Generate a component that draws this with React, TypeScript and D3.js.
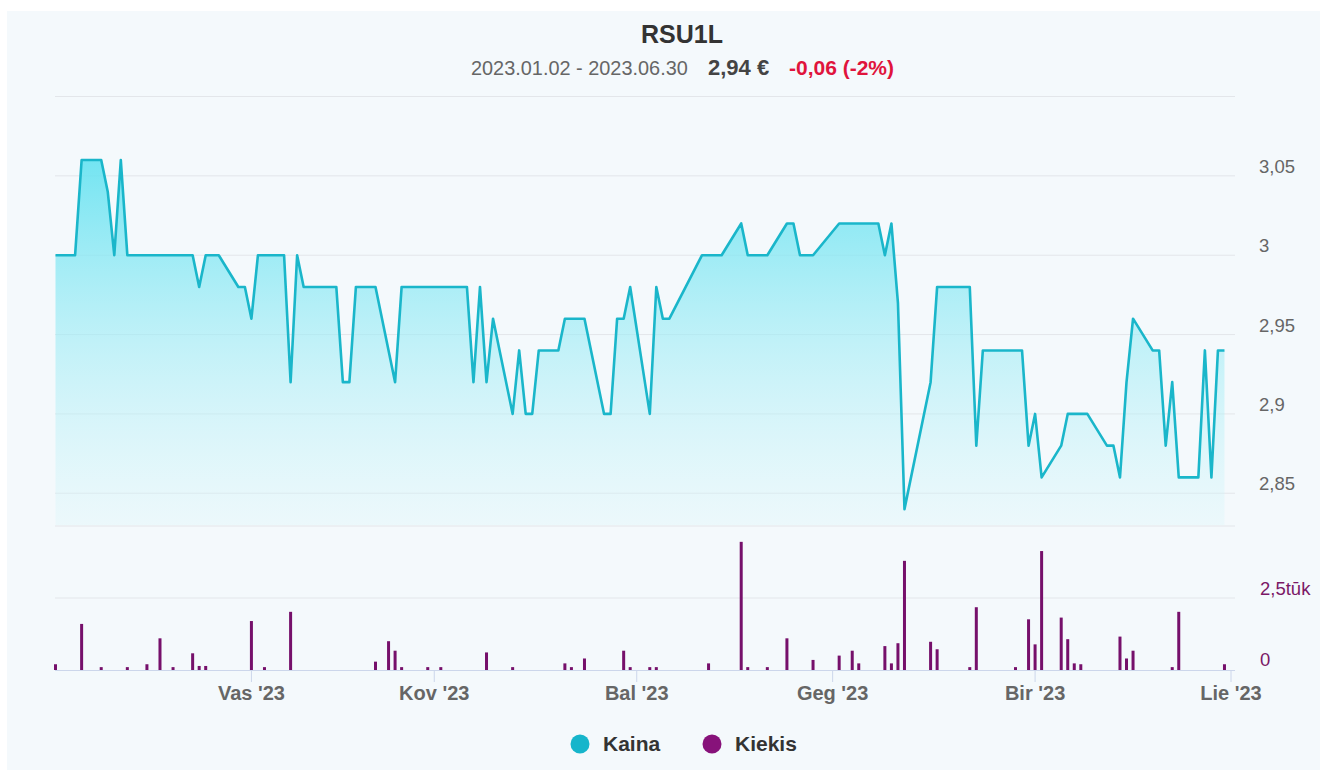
import React from 'react';
import * as d3 from 'd3';

const priceDates = [
  '2023-01-02','2023-01-05','2023-01-06','2023-01-09','2023-01-10','2023-01-11','2023-01-12','2023-01-13',
  '2023-01-23','2023-01-24','2023-01-25','2023-01-27','2023-01-30','2023-01-31','2023-02-01','2023-02-02',
  '2023-02-06','2023-02-07','2023-02-08','2023-02-09','2023-02-14','2023-02-15','2023-02-16','2023-02-17',
  '2023-02-20','2023-02-23','2023-02-24','2023-03-06','2023-03-07','2023-03-08','2023-03-09','2023-03-10',
  '2023-03-13','2023-03-14','2023-03-15','2023-03-16','2023-03-17','2023-03-20','2023-03-21','2023-03-24',
  '2023-03-27','2023-03-28','2023-03-29','2023-03-30','2023-03-31','2023-04-03','2023-04-04','2023-04-05',
  '2023-04-06','2023-04-11','2023-04-14','2023-04-17','2023-04-18','2023-04-21','2023-04-24','2023-04-25',
  '2023-04-26','2023-04-28','2023-05-02','2023-05-08','2023-05-09','2023-05-10','2023-05-11','2023-05-12',
  '2023-05-16','2023-05-17','2023-05-22','2023-05-23','2023-05-24','2023-05-30','2023-05-31','2023-06-01',
  '2023-06-02','2023-06-05','2023-06-06','2023-06-09','2023-06-12','2023-06-13','2023-06-14','2023-06-15',
  '2023-06-16','2023-06-19','2023-06-20','2023-06-21','2023-06-22','2023-06-23','2023-06-26','2023-06-27',
  '2023-06-28','2023-06-29','2023-06-30'
];
const priceValues = [
  3.00, 3.00, 3.06, 3.06, 3.04, 3.00, 3.06, 3.00,
  3.00, 2.98, 3.00, 3.00, 2.98, 2.98, 2.96, 3.00,
  3.00, 2.92, 3.00, 2.98, 2.98, 2.92, 2.92, 2.98,
  2.98, 2.92, 2.98, 2.98, 2.92, 2.98, 2.92, 2.96,
  2.90, 2.94, 2.90, 2.90, 2.94, 2.94, 2.96, 2.96,
  2.90, 2.90, 2.96, 2.96, 2.98, 2.90, 2.98, 2.96,
  2.96, 3.00, 3.00, 3.02, 3.00, 3.00, 3.02, 3.02,
  3.00, 3.00, 3.02, 3.02, 3.00, 3.02, 2.97, 2.84,
  2.92, 2.98, 2.98, 2.88, 2.94, 2.94, 2.88, 2.90,
  2.86, 2.88, 2.90, 2.90, 2.88, 2.88, 2.86, 2.92,
  2.96, 2.94, 2.94, 2.88, 2.92, 2.86, 2.86, 2.94,
  2.86, 2.94, 2.94
];

const volumeDates = [
  '2023-01-02','2023-01-06','2023-01-09','2023-01-13','2023-01-16','2023-01-18','2023-01-20','2023-01-23',
  '2023-01-24','2023-01-25','2023-02-01','2023-02-03','2023-02-07','2023-02-20','2023-02-22','2023-02-23',
  '2023-02-24','2023-02-28','2023-03-02','2023-03-09','2023-03-13','2023-03-21','2023-03-22','2023-03-24',
  '2023-03-30','2023-03-31','2023-04-03','2023-04-04','2023-04-12','2023-04-17','2023-04-18','2023-04-21',
  '2023-04-24','2023-04-28','2023-05-02','2023-05-04','2023-05-05','2023-05-09','2023-05-10','2023-05-11',
  '2023-05-12','2023-05-16','2023-05-17','2023-05-22','2023-05-23','2023-05-29','2023-05-31','2023-06-01',
  '2023-06-02','2023-06-05','2023-06-06','2023-06-07','2023-06-08','2023-06-14','2023-06-15','2023-06-16',
  '2023-06-22','2023-06-23','2023-06-30'
];
const volumeValues = [
  200, 1600, 100, 100, 200, 1100, 100, 580,
  140, 140, 1700, 100, 2020, 290, 1000, 670,
  100, 100, 100, 610, 100, 230, 100, 400,
  670, 100, 100, 100, 230, 4450, 100, 100,
  1100, 350, 500, 670, 230, 830, 230, 930,
  3790, 980, 720, 100, 2180, 100, 1760, 890,
  4130, 1820, 1070, 230, 200, 1160, 400, 670,
  100, 2020, 200
];

const priceTicks = [2.85, 2.9, 2.95, 3.0, 3.05, 3.1];
const priceTickLabels = ['2,85', '2,9', '2,95', '3', '3,05', ''];
const volumeTicks = [2500, 5000];
const volumeTickLabels = ['2,5tūk', ''];
const monthTicks = ['2023-02-01', '2023-03-01', '2023-04-01', '2023-05-01', '2023-06-01', '2023-07-01'];
const monthLabels = ["Vas '23", "Kov '23", "Bal '23", "Geg '23", "Bir '23", "Lie '23"];

const FONT = '"Liberation Sans", Arial, sans-serif';

export default function App() {
  const parse = d3.utcParse('%Y-%m-%d');
  const left = 55;
  const right = 1235;
  const x = d3.scaleUtc()
    .domain([parse('2023-01-02') as Date, parse('2023-07-01') as Date])
    .range([55.5, 1231]);
  const yP = d3.scaleLinear().domain([2.83, 3.10]).range([525, 96.5]);
  const yV = d3.scaleLinear().domain([0, 5000]).range([670, 526]);

  const price = priceDates.map((d, i) => ({ t: parse(d) as Date, v: priceValues[i] }));
  const vols = volumeDates.map((d, i) => ({ t: parse(d) as Date, v: volumeValues[i] }));

  const line = d3.line<{ t: Date; v: number }>().x(d => x(d.t)).y(d => yP(d.v));
  const area = d3.area<{ t: Date; v: number }>().x(d => x(d.t)).y0(yP(2.83)).y1(d => yP(d.v));

  const barW = 3;

  return (
    <svg width={1320} height={770} style={{ position: 'absolute', left: 0, top: 0 }} fontFamily={FONT}>
      <defs>
        <linearGradient id="fillGrad" gradientUnits="userSpaceOnUse" x1="0" y1="150" x2="0" y2="525">
          <stop offset="0" stopColor="#5fe1f0" stopOpacity="0.9" />
          <stop offset="1" stopColor="#d8f6fa" stopOpacity="0.3" />
        </linearGradient>
      </defs>
      <rect x={0} y={0} width={1320} height={770} fill="#ffffff" />
      <rect x={7} y={11} width={1313} height={759} fill="#f4f9fc" />

      {/* Title */}
      <text x={682} y={43} textAnchor="middle" fontSize={25} fontWeight="bold" fill="#333333">RSU1L</text>
      <text x={471} y={75} fontSize={19.9} fill="#666666">2023.01.02 - 2023.06.30</text>
      <text x={708} y={75} fontSize={22} fontWeight="bold" fill="#444444">2,94 €</text>
      <text x={789} y={75} fontSize={21} fontWeight="bold" fill="#e0143c">-0,06 (-2%)</text>

      {/* Price grid */}
      {priceTicks.map((t, i) => (
        <g key={'pg' + i}>
          <line x1={left} x2={right} y1={yP(t)} y2={yP(t)} stroke="#e3e6ea" strokeWidth={1} />
          <text x={1259} y={yP(t) - 3} fontSize={18.5} fill="#666666">{priceTickLabels[i]}</text>
        </g>
      ))}
      {/* Volume grid */}
      {volumeTicks.map((t, i) => (
        <g key={'vg' + i}>
          <line x1={left} x2={right} y1={yV(t)} y2={yV(t)} stroke="#e3e6ea" strokeWidth={1} />
          <text x={1260} y={yV(t) - 3} fontSize={18.5} fill="#7b1866">{volumeTickLabels[i]}</text>
        </g>
      ))}
      <text x={1260} y={666} fontSize={18.5} fill="#7b1866">0</text>

      {/* Price area and line */}
      <path d={area(price) || ''} fill="url(#fillGrad)" />
      <path d={line(price) || ''} fill="none" stroke="#1ab6ca" strokeWidth={2.6} strokeLinejoin="round" />

      {/* Volume bars */}
      {vols.map((d, i) => (
        <rect key={'b' + i} x={x(d.t) - barW / 2} y={yV(d.v)} width={barW} height={yV(0) - yV(d.v)} fill="#76106b" />
      ))}

      {/* X axis */}
      <line x1={left} x2={right} y1={670.5} y2={670.5} stroke="#ccd6eb" strokeWidth={1} />
      {monthTicks.map((m, i) => {
        const xx = x(parse(m) as Date);
        return (
          <g key={'xt' + i}>
            <line x1={xx} x2={xx} y1={670} y2={682} stroke="#ccd6eb" strokeWidth={1} />
            <text x={xx} y={700} textAnchor="middle" fontSize={20} fontWeight="bold" fill="#666666">{monthLabels[i]}</text>
          </g>
        );
      })}

      {/* Legend */}
      <circle cx={580} cy={744} r={9.5} fill="#16b5cb" />
      <text x={603} y={751} fontSize={21} fontWeight="bold" fill="#333333">Kaina</text>
      <circle cx={712} cy={744} r={9.5} fill="#87127a" />
      <text x={735} y={751} fontSize={21} fontWeight="bold" fill="#333333">Kiekis</text>
    </svg>
  );
}
